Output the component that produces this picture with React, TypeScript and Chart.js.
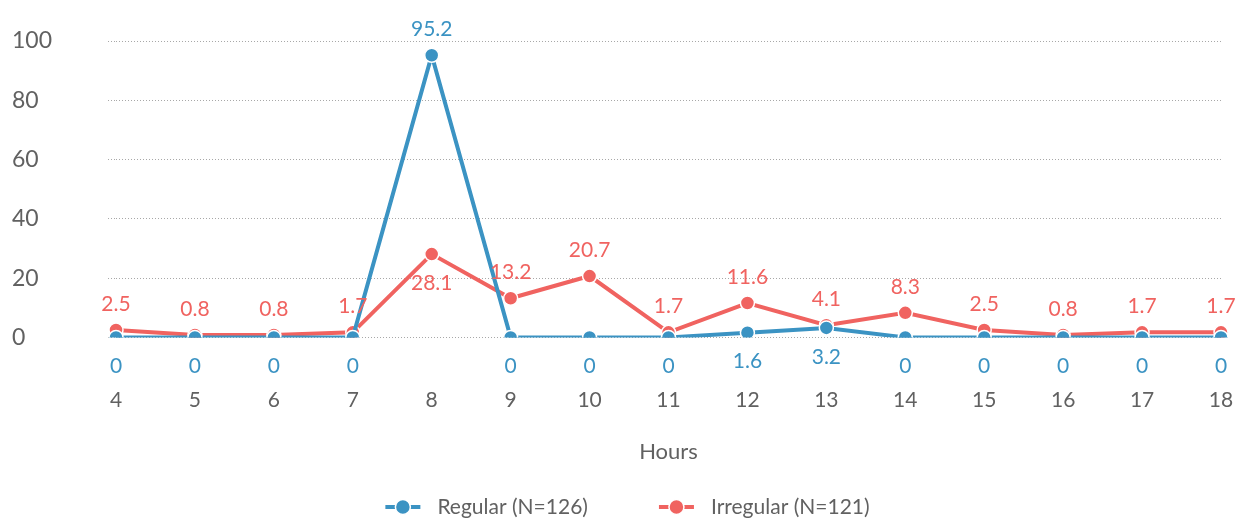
import React, { useEffect, useRef } from 'react';
import { Chart, registerables } from 'chart.js';

Chart.register(...registerables);

const hours = ['4', '5', '6', '7', '8', '9', '10', '11', '12', '13', '14', '15', '16', '17', '18'];
const regular = [0, 0, 0, 0, 95.2, 0, 0, 0, 1.6, 3.2, 0, 0, 0, 0, 0];
const irregular = [2.5, 0.8, 0.8, 1.7, 28.1, 13.2, 20.7, 1.7, 11.6, 4.1, 8.3, 2.5, 0.8, 1.7, 1.7];
const yTicks = [0, 20, 40, 60, 80, 100];
const seriesNames = ['Regular (N=126)', 'Irregular (N=121)'];
const xTitle = 'Hours';

const BLUE = '#3b93c3';
const RED = '#f06360';
const TEXT = '#616161';
const FONT = "Lato, 'Noto Sans', sans-serif";

const valueLabels = {
  id: 'valueLabels',
  afterDatasetsDraw(chart: any) {
    const ctx = chart.ctx;
    ctx.save();
    ctx.font = `21px ${FONT}`;
    ctx.textAlign = 'center';
    ctx.textBaseline = 'middle';
    chart.data.datasets.forEach((ds: any, di: number) => {
      const meta = chart.getDatasetMeta(di);
      const other = chart.data.datasets[1 - di];
      meta.data.forEach((pt: any, i: number) => {
        const v = ds.data[i];
        const above = v > other.data[i];
        ctx.fillStyle = ds.borderColor;
        ctx.fillText(String(v), pt.x, pt.y + (above ? -26 : 29));
      });
    });
    ctx.restore();
  },
};

const lineLegend = {
  id: 'lineLegend',
  afterDraw(chart: any) {
    const ctx = chart.ctx;
    ctx.save();
    ctx.font = `21px ${FONT}`;
    const markerW = 35;
    const gap = 17;
    const itemGap = 71;
    const items = chart.data.datasets.map((ds: any) => ({
      label: ds.label,
      color: ds.borderColor,
      w: ctx.measureText(ds.label).width,
    }));
    const total =
      items.reduce((s: number, it: any) => s + markerW + gap + it.w, 0) + itemGap * (items.length - 1);
    let x = chart.width / 2 - total / 2 + 9;
    const y = chart.height - 13;
    items.forEach((it: any) => {
      ctx.strokeStyle = it.color;
      ctx.lineWidth = 4;
      ctx.beginPath();
      ctx.moveTo(x, y);
      ctx.lineTo(x + markerW, y);
      ctx.stroke();
      ctx.fillStyle = it.color;
      ctx.strokeStyle = '#ffffff';
      ctx.lineWidth = 1.5;
      ctx.beginPath();
      ctx.arc(x + markerW / 2, y, 7.5, 0, Math.PI * 2);
      ctx.fill();
      ctx.stroke();
      ctx.fillStyle = TEXT;
      ctx.textAlign = 'left';
      ctx.textBaseline = 'middle';
      ctx.fillText(it.label, x + markerW + gap, y);
      x += markerW + gap + it.w + itemGap;
    });
    ctx.restore();
  },
};

export default function App() {
  const ref = useRef<HTMLCanvasElement | null>(null);

  useEffect(() => {
    if (!ref.current) return;
    Chart.defaults.font.family = FONT;
    const mk = (label: string, data: number[], color: string) => ({
      label,
      data,
      borderColor: color,
      backgroundColor: color,
      borderWidth: 4,
      pointRadius: 7,
      pointBorderWidth: 1.5,
      pointBorderColor: '#ffffff',
      pointBackgroundColor: color,
      tension: 0,
      fill: false,
    });
    const chart = new Chart(ref.current, {
      type: 'line',
      data: {
        labels: hours,
        datasets: [mk(seriesNames[0], regular, BLUE), mk(seriesNames[1], irregular, RED)],
      },
      options: {
        animation: false,
        responsive: true,
        maintainAspectRatio: false,
        events: [],
        layout: { padding: { left: 12, right: 16, top: 41, bottom: 55 } },
        plugins: { legend: { display: false }, tooltip: { enabled: false } },
        scales: {
          x: {
            offset: false,
            grid: {
              display: true,
              drawOnChartArea: false,
              drawTicks: true,
              tickLength: 50,
              tickColor: 'rgba(0,0,0,0)',
            },
            border: { display: false },
            ticks: { color: TEXT, font: { size: 21 }, padding: 0, maxRotation: 0, autoSkip: false },
            title: {
              display: true,
              text: xTitle,
              color: TEXT,
              font: { size: 22 },
              padding: { top: 26, bottom: 0 },
            },
          },
          y: {
            min: 0,
            max: 100,
            afterBuildTicks: (s: any) => {
              s.ticks = yTicks.map((v) => ({ value: v }));
            },
            afterFit: (s: any) => {
              s.width = 104;
            },
            grid: {
              color: '#a8a8a8',
              lineWidth: 1,
              drawTicks: true,
              tickLength: 8,
              tickColor: '#a8a8a8',
              tickBorderDash: [1, 2],
            },
            border: { display: false, dash: [1, 2] },
            ticks: { color: TEXT, font: { size: 23 }, crossAlign: 'far', padding: 0 },
          },
        },
      },
      plugins: [valueLabels, lineLegend],
    } as any);
    return () => chart.destroy();
  }, []);

  return (
    <div style={{ position: 'absolute', left: 0, top: 0, width: 1237, height: 520 }}>
      <canvas ref={ref} />
    </div>
  );
}
